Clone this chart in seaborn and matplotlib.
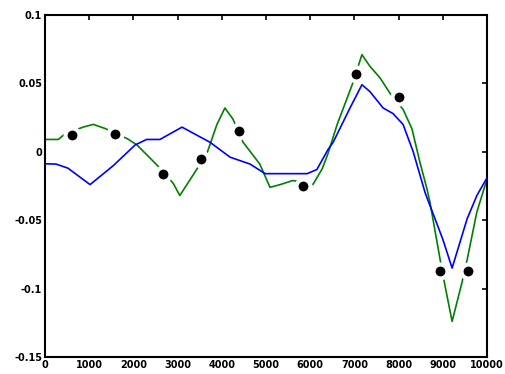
import matplotlib
matplotlib.use("Agg")
import matplotlib.pyplot as plt
import seaborn as sns
import pandas as pd

# Blue curve
blue_x = [0, 250, 520, 1020, 1550, 2040, 2300, 2600, 3100, 3730, 4190, 4640, 4980,
          5930, 6150, 6400, 6520, 6900, 7170, 7350, 7650, 7870, 8100, 8330, 8600,
          9000, 9210, 9550, 9770, 10000]
blue_y = [-0.0088, -0.009, -0.012, -0.024, -0.010, 0.005, 0.009, 0.009, 0.018, 0.007,
          -0.004, -0.009, -0.016, -0.016, -0.013, 0.0015, 0.007, 0.032, 0.049, 0.044,
          0.032, 0.028, 0.020, 0.0, -0.030, -0.064, -0.085, -0.049, -0.032, -0.019]

# Green curve
green_x = [0, 300, 450, 860, 1090, 1360, 1860, 2080, 2530, 2900, 3050, 3440, 3660,
           3890, 4070, 4250, 4480, 4860, 5090, 5320, 5610, 6060, 6270, 6400, 6610,
           6950, 7170, 7350, 7580, 7800, 8100, 8300, 8480, 8640, 8710, 8940, 9050,
           9210, 9430, 9550, 9770, 10000]
green_y = [0.009, 0.009, 0.013, 0.018, 0.020, 0.017, 0.0096, 0.005, -0.0096, -0.023,
           -0.032, -0.0125, -0.0015, 0.020, 0.032, 0.024, 0.007, -0.009, -0.026, -0.024,
           -0.021, -0.024, -0.0125, -0.0015, 0.020, 0.049, 0.071, 0.0625, 0.054, 0.043,
           0.031, 0.017, -0.0074, -0.027, -0.037, -0.079, -0.098, -0.124, -0.096, -0.079,
           -0.044, -0.020]

# Sample points
pts_x = [610, 1580, 2670, 3530, 4390, 5830, 7040, 8010, 8940, 9560]
pts_y = [0.012, 0.013, -0.016, -0.005, 0.0155, -0.025, 0.0566, 0.0397, -0.087, -0.087]

x_ticks = [0, 1000, 2000, 3000, 4000, 5000, 6000, 7000, 8000, 9000, 10000]
y_ticks = [-0.15, -0.1, -0.05, 0, 0.05, 0.1]
y_tick_labels = ["-0.15", "-0.1", "-0.05", "0", "0.05", "0.1"]

sns.set_style("white")
plt.rcParams["font.family"] = ["DejaVu Sans"]

fig = plt.figure(figsize=(5.05, 3.74), dpi=100)
ax = fig.add_axes([0.0891, 0.0455, 0.8753, 0.9145])

green_df = pd.DataFrame({"x": green_x, "y": green_y})
blue_df = pd.DataFrame({"x": blue_x, "y": blue_y})
pts_df = pd.DataFrame({"x": pts_x, "y": pts_y})

sns.lineplot(data=green_df, x="x", y="y", sort=False, estimator=None,
             color="#008000", linewidth=1.2, ax=ax, zorder=2)
sns.scatterplot(data=pts_df, x="x", y="y", color="black", s=100,
                edgecolor="white", linewidth=2.9, ax=ax, zorder=3)
sns.lineplot(data=blue_df, x="x", y="y", sort=False, estimator=None,
             color="#0000ff", linewidth=1.2, ax=ax, zorder=4)

ax.set_xlim(0, 10000)
ax.set_ylim(-0.15, 0.1)
ax.set_xticks(x_ticks)
ax.set_xticklabels([str(v) for v in x_ticks])
ax.set_yticks(y_ticks)
ax.set_yticklabels(y_tick_labels)
ax.set_xlabel("")
ax.set_ylabel("")

for side in ["top", "bottom", "left", "right"]:
    ax.spines[side].set_visible(True)
    ax.spines[side].set_color("black")
    ax.spines[side].set_linewidth(1.5)

ax.tick_params(axis="both", which="both", direction="in", length=3.5, width=1.2,
               top=True, right=True, labelsize=7, pad=2, colors="black")
for lbl in ax.get_xticklabels() + ax.get_yticklabels():
    lbl.set_fontweight("bold")

fig.savefig("out.png", dpi=100, facecolor="white")
